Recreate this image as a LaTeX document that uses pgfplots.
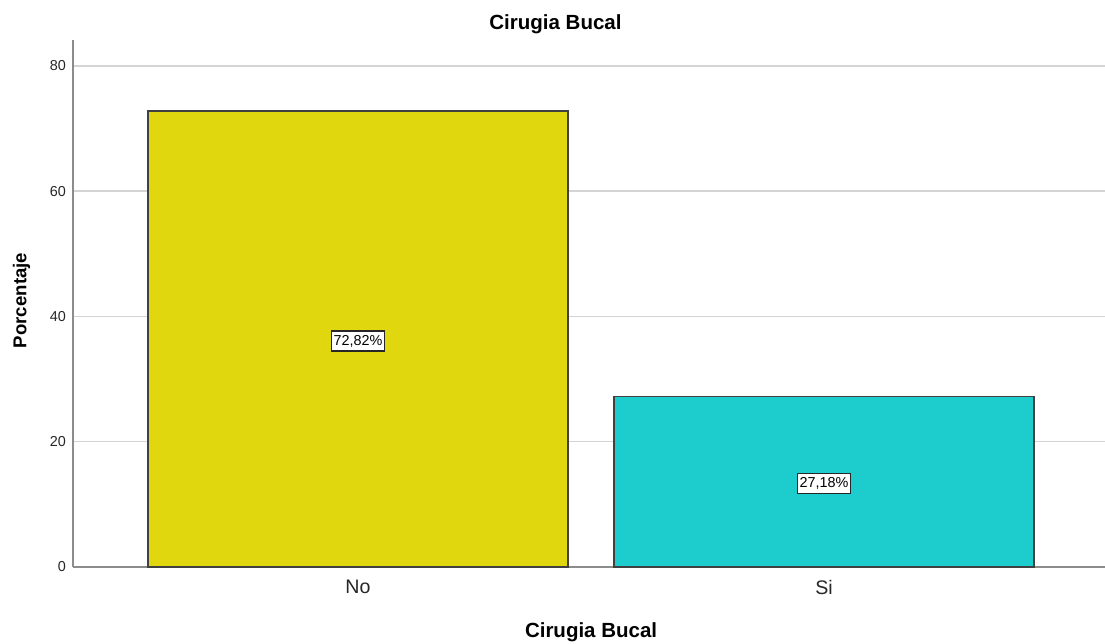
\documentclass[border=0pt]{standalone}
\usepackage{pgfplots}
\pgfplotsset{compat=1.18}
\usepackage{fontspec}
\setmainfont{Liberation Sans}
\definecolor{barY}{RGB}{225,215,14}
\definecolor{barC}{RGB}{29,205,205}
\definecolor{axgray}{RGB}{140,140,140}
\definecolor{gridgray}{RGB}{212,212,212}
\begin{document}
\begin{tikzpicture}
\path[use as bounding box] (-73pt,-76pt) rectangle (1032pt,567pt);
\begin{axis}[
  at={(0pt,0pt)}, anchor=south west,
  scale only axis, width=1032pt, height=527pt,
  xmin=-0.6116, xmax=1.603, ymin=0, ymax=84.15,
  axis x line*=bottom, axis y line*=left,
  axis line style={axgray, line width=1.5pt},
  xtick={0,1}, xticklabels={No,Si},
  ytick={0,20,40,60,80},
  major tick length=0pt,
  ymajorgrids, grid style={gridgray, line width=1.5pt},
  /pgf/number format/assume math mode=true,
  yticklabel style={font=\fontsize{14.4}{16}\selectfont, inner sep=0pt, xshift=-7pt, text=black!85},
  xticklabel style={font=\fontsize{19.6}{22}\selectfont, inner sep=0pt, anchor=north, yshift=-13pt, text=black!85},
  title={Cirugia Bucal},
  title style={at={(axis description cs:0.4675,1.019)}, anchor=center, font=\bfseries\fontsize{20.5}{24}\selectfont},
  xlabel={Cirugia Bucal},
  xlabel style={at={(axis description cs:0.502,-0.1245)}, anchor=center, font=\bfseries\fontsize{20.5}{24}\selectfont},
  ylabel={Porcentaje},
  ylabel style={at={(axis description cs:-0.0499,0.5057)}, anchor=center, font=\bfseries\fontsize{18.6}{22}\selectfont},
]
\addplot[ybar, bar width=420pt, bar shift=0pt, fill=barY, draw=black!75, line width=1.3pt] coordinates {(0,72.82)};
\addplot[ybar, bar width=420pt, bar shift=0pt, fill=barC, draw=black!75, line width=1.3pt] coordinates {(1,27.18)};
\addplot[draw=none, mark=none, nodes near coords, point meta=explicit symbolic,
  every node near coord/.style={anchor=center, fill=white, draw=black!85, line width=1.3pt, inner xsep=2pt, inner ysep=4pt, font=\fontsize{14.4}{16}\selectfont}]
  coordinates {(0,36.1) [72,82\%] (1,13.3) [27,18\%]};
\end{axis}
\end{tikzpicture}
\end{document}
